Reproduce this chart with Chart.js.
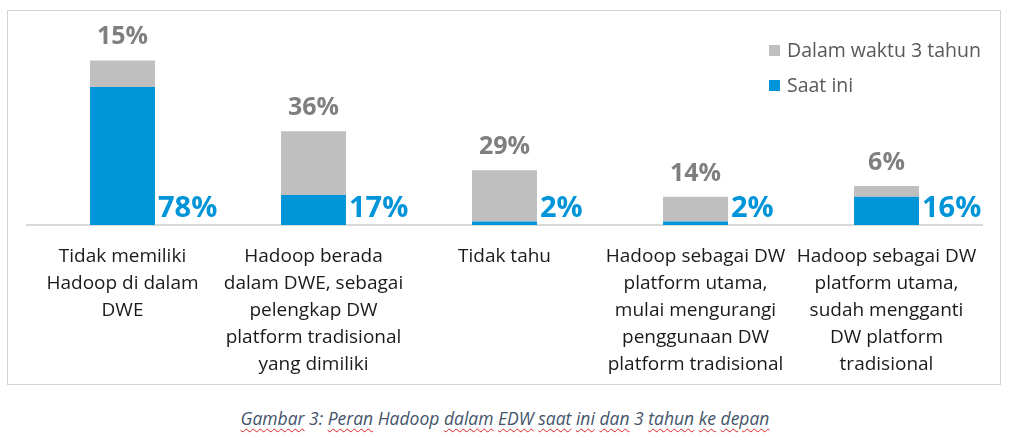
<!DOCTYPE html>
<html>
<head>
<meta charset="utf-8">
<script src="https://cdn.jsdelivr.net/npm/chart.js@4.4.1/dist/chart.umd.min.js"></script>
<style>
  html, body { margin: 0; padding: 0; background: #fff; }
  body { width: 1024px; height: 448px; position: relative; overflow: hidden; font-family: "Open Sans", sans-serif; }
  #frame { position: absolute; left: 7px; top: 10px; width: 994px; height: 375px; border: 1px solid #d4d4d4; box-sizing: border-box; }
  #box { position: absolute; left: 8px; top: 11px; width: 992px; height: 373px; }
  #caption { position: absolute; left: 0; width: 1010px; top: 406px; text-align: center; font-style: italic; font-size: 17.5px; color: #44546a; }
  #caption u { text-decoration: underline wavy #e02020; text-decoration-thickness: 1px; text-underline-offset: 3px; }
</style>
</head>
<body>
<div id="frame"></div>
<div id="box"><canvas id="Chart"></canvas></div>
<div id="caption"><u>Gambar</u> 3: <u>Peran</u> Hadoop <u>dalam</u> <u>EDW</u> <u>saat</u> <u>ini</u> <u>dan</u> 3 <u>tahun</u> <u>ke</u> <u>depan</u></div>
<script>
// data
const categories = [
  ['Tidak memiliki', 'Hadoop di dalam', 'DWE'],
  ['Hadoop berada', 'dalam DWE, sebagai', 'pelengkap DW', 'platform tradisional', 'yang dimiliki'],
  ['Tidak tahu'],
  ['Hadoop sebagai DW', 'platform utama,', 'mulai mengurangi', 'penggunaan DW', 'platform tradisional'],
  ['Hadoop sebagai DW', 'platform utama,', 'sudah mengganti', 'DW platform', 'tradisional']
];
const saatIni = [78, 17, 2, 2, 16];
const dalam3Tahun = [15, 36, 29, 14, 6];

const BLUE = '#0094d9';
const GRAY = '#bfbfbf';

// percentages: grey ones above the stack, blue ones beside the bar foot
const valueLabels = {
  id: 'valueLabels',
  afterDatasetsDraw(chart) {
    const ctx = chart.ctx;
    const blueMeta = chart.getDatasetMeta(0);
    const grayMeta = chart.getDatasetMeta(1);
    const base = chart.scales.y.getPixelForValue(0);
    ctx.save();
    blueMeta.data.forEach((bar, i) => {
      ctx.font = 'bold 29px "Open Sans"';
      ctx.fillStyle = BLUE;
      ctx.textAlign = 'left';
      ctx.textBaseline = 'alphabetic';
      ctx.fillText(saatIni[i] + '%', bar.x + bar.width / 2 + 3, base - 8);

      const g = grayMeta.data[i];
      ctx.font = 'bold 25px "Open Sans"';
      ctx.fillStyle = '#7f7f7f';
      ctx.textAlign = 'center';
      ctx.fillText(dalam3Tahun[i] + '%', g.x, g.y - 16);
    });
    ctx.restore();
  }
};

// legend stacked vertically in the upper right
const sideLegend = {
  id: 'sideLegend',
  afterDraw(chart) {
    const ctx = chart.ctx;
    const items = [chart.data.datasets[1], chart.data.datasets[0]];
    ctx.save();
    ctx.font = '19.5px "Open Sans"';
    ctx.textBaseline = 'middle';
    ctx.textAlign = 'left';
    items.forEach((ds, i) => {
      const y = 34 + i * 35;
      ctx.fillStyle = ds.backgroundColor;
      ctx.fillRect(761, y, 11, 11);
      ctx.fillStyle = '#595959';
      ctx.fillText(ds.label, 779, y + 6);
    });
    ctx.restore();
  }
};

new Chart(document.getElementById('Chart'), {
  type: 'bar',
  data: {
    labels: categories,
    datasets: [
      { label: 'Saat ini', data: saatIni, backgroundColor: BLUE },
      { label: 'Dalam waktu 3 tahun', data: dalam3Tahun, backgroundColor: GRAY }
    ]
  },
  options: {
    responsive: true,
    maintainAspectRatio: false,
    animation: false,
    categoryPercentage: 1,
    barPercentage: 0.34,
    layout: { padding: { left: 19, right: 18, top: 37, bottom: 0 } },
    plugins: { legend: { display: false }, tooltip: { enabled: false } },
    scales: {
      x: {
        stacked: true,
        grid: { display: false, drawTicks: false },
        border: { display: true, color: '#d9d9d9', width: 2 },
        ticks: {
          autoSkip: false, maxRotation: 0, minRotation: 0, padding: 18,
          color: '#1a1a1a',
          font: { family: 'Open Sans', size: 19, lineHeight: 1.42 }
        },
        afterFit(scale) { scale.height = 159; }
      },
      y: {
        stacked: true, display: false, min: 0, max: 100
      }
    }
  },
  plugins: [valueLabels, sideLegend]
});
</script>
</body>
</html>
